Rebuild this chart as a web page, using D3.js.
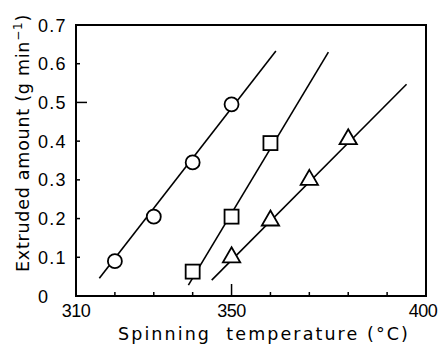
<!DOCTYPE html>
<html><head><meta charset="utf-8">
<script src="https://cdn.jsdelivr.net/npm/d3@7"></script>
<style>
html,body{margin:0;padding:0;background:#fff;}
svg{display:block;}
text{font-family:"Liberation Sans",Arial,sans-serif;fill:#000;}
text.title{font-family:"DejaVu Sans",sans-serif;}
</style></head>
<body>
<svg id="c" width="441" height="347"></svg>
<script>
// ---- data ----
const xTicks = [310, 320, 330, 340, 350, 360, 370, 380, 390, 400];
const xTickLabels = [310, 350, 400];
const yTicks = [0, 0.1, 0.2, 0.3, 0.4, 0.5, 0.6, 0.7];
const yTickLabels = ["0", "0.1", "0.2", "0.3", "0.4", "0.5", "0.6", "0.7"];

const circleT = [320, 330, 340, 350];
const circleV = [0.09, 0.205, 0.345, 0.495];
const circleLineT = [316.0, 361.4];
const circleLineV = [0.046, 0.633];

const squareT = [340, 350, 360];
const squareV = [0.063, 0.205, 0.395];
const squareLineT = [338.9, 374.9];
const squareLineV = [0.028, 0.630];

const triangleT = [350, 360, 370, 380];
const triangleV = [0.10, 0.195, 0.30, 0.405];
const triangleLineT = [344.9, 395.0];
const triangleLineV = [0.041, 0.547];

// ---- layout ----
const L = 76, R = 426, T = 25, B = 296;
const svg = d3.select("#c");
const x = d3.scaleLinear().domain([310, 400]).range([L, R]);
const y = d3.scaleLinear().domain([0, 0.7]).range([B, T]);

// fit lines (behind markers)
const line = d3.line().x(d => x(d[0])).y(d => y(d[1]));
const fits = [
  d3.zip(circleLineT, circleLineV),
  d3.zip(squareLineT, squareLineV),
  d3.zip(triangleLineT, triangleLineV)
];
svg.selectAll("path.fit").data(fits).join("path")
  .attr("class", "fit").attr("d", line)
  .attr("fill", "none").attr("stroke", "#000").attr("stroke-width", 1.6);

// frame
svg.append("rect").attr("x", L).attr("y", T).attr("width", R - L).attr("height", B - T)
  .attr("fill", "none").attr("stroke", "#000").attr("stroke-width", 2);

// x ticks (inward)
svg.selectAll("line.xt").data(xTicks.slice(1, -1)).join("line")
  .attr("x1", d => x(d)).attr("x2", d => x(d))
  .attr("y1", B).attr("y2", d => B - (d === 350 ? 12 : 4))
  .attr("stroke", "#000").attr("stroke-width", 1.5);
// y ticks (inward)
svg.selectAll("line.yt").data(yTicks.slice(1, -1)).join("line")
  .attr("y1", d => y(d)).attr("y2", d => y(d))
  .attr("x1", L).attr("x2", d => L + (d === 0.5 ? 11 : 4))
  .attr("stroke", "#000").attr("stroke-width", 1.5);

// tick labels
svg.selectAll("text.xl").data(xTickLabels).join("text")
  .attr("x", d => x(d) - (d === 400 ? 3 : 0)).attr("y", 317)
  .attr("text-anchor", "middle").attr("font-size", 18)
  .attr("letter-spacing", -0.5)
  .text(d => d);
svg.selectAll("text.yl").data(yTicks).join("text")
  .attr("x", 38).attr("y", d => y(d) + 6.5)
  .attr("font-size", 18).attr("letter-spacing", 1.2)
  .text((d, i) => yTickLabels[i]);

// axis titles
function fitText(sel, target, n) {
  const w = sel.node().getComputedTextLength();
  sel.attr("letter-spacing", (target - w) / n);
}
const xt = svg.append("text").attr("class", "title").attr("x", 118).attr("y", 340)
  .attr("font-size", 17.5)
  .style("white-space", "pre")
  .text("Spinning  temperature (°C)");
fitText(xt, 292, 26);

const yt = svg.append("text").attr("class", "title").attr("transform", "translate(29,272) rotate(-90)")
  .attr("font-size", 17.5);
yt.append("tspan").text("Extruded amount (g min");
yt.append("tspan").attr("font-size", 12).attr("dy", -7).text("−1");
yt.append("tspan").attr("dy", 7).text(")");
fitText(yt, 258, 25);

// markers
const pts = (ts, vs) => ts.map((t, i) => [t, vs[i]]);
svg.selectAll("circle.m").data(pts(circleT, circleV)).join("circle")
  .attr("cx", d => x(d[0])).attr("cy", d => y(d[1])).attr("r", 7)
  .attr("fill", "#fff").attr("stroke", "#000").attr("stroke-width", 1.8);
svg.selectAll("rect.m").data(pts(squareT, squareV)).join("rect")
  .attr("x", d => x(d[0]) - 7).attr("y", d => y(d[1]) - 7)
  .attr("width", 14).attr("height", 14)
  .attr("fill", "#fff").attr("stroke", "#000").attr("stroke-width", 1.8);
const tri = d3.symbol().type(d3.symbolTriangle).size(130);
svg.selectAll("path.m").data(pts(triangleT, triangleV)).join("path")
  .attr("transform", d => `translate(${x(d[0])},${y(d[1])})`)
  .attr("d", tri)
  .attr("fill", "#fff").attr("stroke", "#000").attr("stroke-width", 1.8);
</script>
</body></html>
